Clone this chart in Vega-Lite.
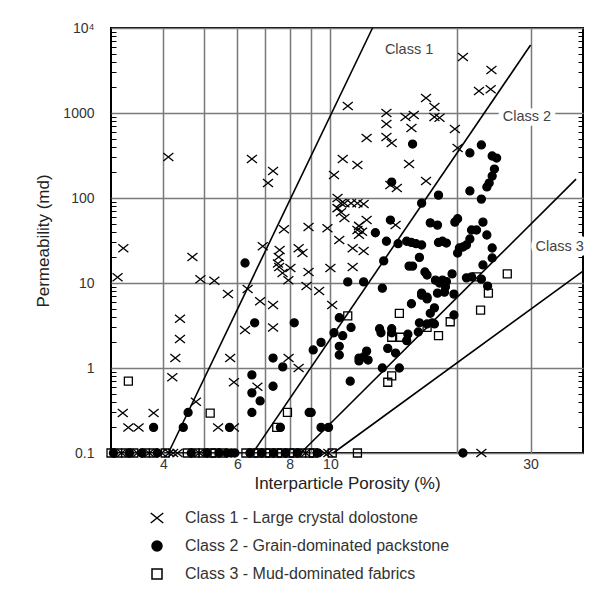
{
  "$schema": "https://vega.github.io/schema/vega-lite/v6.json",
  "width": 472,
  "height": 425,
  "autosize": {"type": "none"},
  "padding": {"left": 111, "top": 28, "right": 23, "bottom": 148},
  "background": "white",
  "config": {
    "view": {"stroke": "black", "strokeWidth": 2},
    "font": "Liberation Sans",
    "axis": {"labelFont": "Liberation Sans", "titleFont": "Liberation Sans", "titleFontWeight": "normal"},
    "legend": {"labelFont": "Liberation Sans"}
  },
  "datasets": {
    "pts": [
      {"x":4.11,"k":303,"c":"1"},{"x":6.5,"k":288,"c":"1"},{"x":7.3,"k":208,"c":"1"},{"x":7.1,"k":150,"c":"1"},{"x":3.21,"k":25.7,"c":"1"},{"x":3.11,"k":11.7,"c":"1"},{"x":4.69,"k":20.2,"c":"1"},{"x":4.9,"k":11.1,"c":"1"},{"x":5.29,"k":10.6,"c":"1"},{"x":5.7,"k":7.4,"c":"1"},{"x":6.35,"k":8.5,"c":"1"},{"x":6.9,"k":27,"c":"1"},{"x":7.75,"k":43,"c":"1"},{"x":7.57,"k":24.4,"c":"1"},{"x":7.53,"k":20.2,"c":"1"},{"x":7.55,"k":15.4,"c":"1"},{"x":7.69,"k":13.1,"c":"1"},{"x":8.03,"k":15,"c":"1"},{"x":7.94,"k":10.8,"c":"1"},{"x":8.4,"k":25.7,"c":"1"},{"x":8.58,"k":22.5,"c":"1"},{"x":11.0,"k":1208,"c":"1"},{"x":13.6,"k":1000,"c":"1"},{"x":13.6,"k":741,"c":"1"},{"x":15.1,"k":897,"c":"1"},{"x":15.8,"k":947,"c":"1"},{"x":15.6,"k":667,"c":"1"},{"x":17.7,"k":1175,"c":"1"},{"x":17.7,"k":900,"c":"1"},{"x":18.2,"k":880,"c":"1"},{"x":12.2,"k":508,"c":"1"},{"x":13.6,"k":522,"c":"1"},{"x":14.0,"k":444,"c":"1"},{"x":10.7,"k":288,"c":"1"},{"x":11.6,"k":244,"c":"1"},{"x":15.4,"k":251,"c":"1"},{"x":10.2,"k":186,"c":"1"},{"x":13.9,"k":142,"c":"1"},{"x":14.4,"k":131,"c":"1"},{"x":16.9,"k":158,"c":"1"},{"x":10.4,"k":100,"c":"1"},{"x":10.6,"k":87,"c":"1"},{"x":10.8,"k":87,"c":"1"},{"x":11.2,"k":87,"c":"1"},{"x":11.6,"k":87,"c":"1"},{"x":12.0,"k":85,"c":"1"},{"x":10.4,"k":76,"c":"1"},{"x":10.6,"k":68,"c":"1"},{"x":10.8,"k":58,"c":"1"},{"x":12.2,"k":55,"c":"1"},{"x":11.7,"k":47,"c":"1"},{"x":11.6,"k":42,"c":"1"},{"x":11.9,"k":40,"c":"1"},{"x":11.7,"k":37,"c":"1"},{"x":14.3,"k":48,"c":"1"},{"x":11.3,"k":25.7,"c":"1"},{"x":12.0,"k":23.8,"c":"1"},{"x":11.3,"k":15.4,"c":"1"},{"x":10.5,"k":32,"c":"1"},{"x":9.84,"k":44,"c":"1"},{"x":8.87,"k":45.6,"c":"1"},{"x":7.5,"k":17,"c":"1"},{"x":8.87,"k":13.5,"c":"1"},{"x":10.0,"k":15,"c":"1"},{"x":8.77,"k":9.2,"c":"1"},{"x":9.4,"k":8.05,"c":"1"},{"x":20.7,"k":4560,"c":"1"},{"x":24.2,"k":3200,"c":"1"},{"x":22.6,"k":1820,"c":"1"},{"x":24.1,"k":1900,"c":"1"},{"x":16.9,"k":1500,"c":"1"},{"x":19.8,"k":649,"c":"1"},{"x":20.1,"k":387,"c":"1"},{"x":4.38,"k":3.8,"c":"1"},{"x":4.38,"k":2.2,"c":"1"},{"x":4.27,"k":1.31,"c":"1"},{"x":4.2,"k":0.78,"c":"1"},{"x":6.8,"k":6.1,"c":"1"},{"x":7.3,"k":5.5,"c":"1"},{"x":6.26,"k":2.8,"c":"1"},{"x":7.3,"k":3.0,"c":"1"},{"x":5.77,"k":1.31,"c":"1"},{"x":5.89,"k":0.68,"c":"1"},{"x":6.7,"k":0.6,"c":"1"},{"x":7.95,"k":1.31,"c":"1"},{"x":8.4,"k":1.0,"c":"1"},{"x":4.78,"k":0.4,"c":"1"},{"x":5.4,"k":0.2,"c":"1"},{"x":5.89,"k":0.2,"c":"1"},{"x":3.2,"k":0.295,"c":"1"},{"x":3.79,"k":0.295,"c":"1"},{"x":3.3,"k":0.2,"c":"1"},{"x":3.49,"k":0.2,"c":"1"},{"x":10.1,"k":5.5,"c":"1"},{"x":22.9,"k":0.1,"c":"1"},
      {"x":3.18,"k":0.1,"c":"1"},{"x":3.47,"k":0.1,"c":"1"},{"x":3.7,"k":0.1,"c":"1"},{"x":3.96,"k":0.1,"c":"1"},{"x":4.13,"k":0.1,"c":"1"},{"x":4.22,"k":0.1,"c":"1"},{"x":4.32,"k":0.1,"c":"1"},{"x":4.87,"k":0.1,"c":"1"},{"x":8.73,"k":0.1,"c":"1"},{"x":9.68,"k":0.1,"c":"1"},{"x":9.89,"k":0.1,"c":"1"},
      {"x":6.26,"k":17.2,"c":"2"},{"x":15.7,"k":431,"c":"2"},{"x":14.0,"k":154,"c":"2"},{"x":18.1,"k":108,"c":"2"},{"x":16.5,"k":87,"c":"2"},{"x":13.9,"k":55,"c":"2"},{"x":12.8,"k":39,"c":"2"},{"x":13.6,"k":31,"c":"2"},{"x":14.5,"k":29,"c":"2"},{"x":15.2,"k":31,"c":"2"},{"x":15.6,"k":30,"c":"2"},{"x":16.0,"k":29,"c":"2"},{"x":16.5,"k":28,"c":"2"},{"x":16.3,"k":20,"c":"2"},{"x":15.4,"k":15.8,"c":"2"},{"x":15.7,"k":15.8,"c":"2"},{"x":16.8,"k":13.5,"c":"2"},{"x":17.0,"k":12.4,"c":"2"},{"x":18.1,"k":30,"c":"2"},{"x":17.3,"k":51,"c":"2"},{"x":18.0,"k":48,"c":"2"},{"x":13.4,"k":18.2,"c":"2"},{"x":11.0,"k":10.3,"c":"2"},{"x":12.0,"k":10.3,"c":"2"},{"x":13.3,"k":8.7,"c":"2"},{"x":22.9,"k":421,"c":"2"},{"x":21.5,"k":339,"c":"2"},{"x":24.3,"k":312,"c":"2"},{"x":24.9,"k":295,"c":"2"},{"x":24.6,"k":219,"c":"2"},{"x":24.3,"k":181,"c":"2"},{"x":23.9,"k":150,"c":"2"},{"x":23.6,"k":135,"c":"2"},{"x":21.5,"k":121,"c":"2"},{"x":22.9,"k":97,"c":"2"},{"x":23.1,"k":52,"c":"2"},{"x":22.3,"k":42,"c":"2"},{"x":21.7,"k":42,"c":"2"},{"x":21.5,"k":33,"c":"2"},{"x":21.1,"k":28,"c":"2"},{"x":20.3,"k":25.8,"c":"2"},{"x":20.1,"k":22.5,"c":"2"},{"x":20.7,"k":26.5,"c":"2"},{"x":23.6,"k":36.7,"c":"2"},{"x":24.3,"k":25.8,"c":"2"},{"x":24.3,"k":19.7,"c":"2"},{"x":20.1,"k":57,"c":"2"},{"x":19.8,"k":52,"c":"2"},{"x":18.5,"k":31,"c":"2"},{"x":18.9,"k":29.5,"c":"2"},{"x":17.8,"k":10.8,"c":"2"},{"x":18.2,"k":10,"c":"2"},{"x":18.5,"k":10.8,"c":"2"},{"x":18.9,"k":10.4,"c":"2"},{"x":18.8,"k":9.0,"c":"2"},{"x":19.5,"k":12.8,"c":"2"},{"x":21.1,"k":11.5,"c":"2"},{"x":21.7,"k":11.8,"c":"2"},{"x":23.1,"k":16.3,"c":"2"},{"x":22.9,"k":11.1,"c":"2"},{"x":23.7,"k":9.2,"c":"2"},{"x":16.5,"k":7.6,"c":"2"},{"x":17.0,"k":6.8,"c":"2"},{"x":18.0,"k":7.6,"c":"2"},{"x":10.5,"k":3.9,"c":"2"},{"x":10.2,"k":2.6,"c":"2"},{"x":10.7,"k":2.4,"c":"2"},{"x":11.2,"k":3.0,"c":"2"},{"x":9.5,"k":2.0,"c":"2"},{"x":9.1,"k":1.63,"c":"2"},{"x":10.5,"k":1.8,"c":"2"},{"x":10.5,"k":1.42,"c":"2"},{"x":13.1,"k":2.9,"c":"2"},{"x":13.2,"k":2.6,"c":"2"},{"x":14.0,"k":2.9,"c":"2"},{"x":14.0,"k":2.6,"c":"2"},{"x":15.3,"k":2.5,"c":"2"},{"x":15.2,"k":2.1,"c":"2"},{"x":16.2,"k":2.65,"c":"2"},{"x":13.7,"k":1.7,"c":"2"},{"x":14.3,"k":1.5,"c":"2"},{"x":12.2,"k":1.58,"c":"2"},{"x":11.7,"k":1.31,"c":"2"},{"x":12.3,"k":1.24,"c":"2"},{"x":11.7,"k":1.21,"c":"2"},{"x":12.0,"k":1.35,"c":"2"},{"x":13.3,"k":1.0,"c":"2"},{"x":14.6,"k":1.0,"c":"2"},{"x":11.15,"k":0.7,"c":"2"},{"x":8.9,"k":0.3,"c":"2"},{"x":9.5,"k":0.2,"c":"2"},{"x":9.9,"k":0.2,"c":"2"},{"x":15.6,"k":5.7,"c":"2"},{"x":16.5,"k":7.2,"c":"2"},{"x":17.0,"k":6.5,"c":"2"},{"x":17.3,"k":4.4,"c":"2"},{"x":17.7,"k":5.1,"c":"2"},{"x":18.7,"k":7.8,"c":"2"},{"x":19.7,"k":7.4,"c":"2"},{"x":16.3,"k":3.4,"c":"2"},{"x":17.0,"k":3.3,"c":"2"},{"x":17.5,"k":3.4,"c":"2"},{"x":17.7,"k":3.3,"c":"2"},{"x":19.7,"k":4.2,"c":"2"},{"x":6.6,"k":3.4,"c":"2"},{"x":8.2,"k":3.4,"c":"2"},{"x":7.3,"k":1.31,"c":"2"},{"x":7.7,"k":1.03,"c":"2"},{"x":6.5,"k":0.83,"c":"2"},{"x":6.5,"k":0.51,"c":"2"},{"x":6.8,"k":0.41,"c":"2"},{"x":6.5,"k":0.3,"c":"2"},{"x":7.3,"k":0.61,"c":"2"},{"x":9.0,"k":0.3,"c":"2"},{"x":7.6,"k":0.2,"c":"2"},{"x":4.58,"k":0.3,"c":"2"},{"x":4.46,"k":0.2,"c":"2"},{"x":5.75,"k":0.2,"c":"2"},{"x":3.79,"k":0.2,"c":"2"},{"x":20.7,"k":0.1,"c":"2"},
      {"x":3.04,"k":0.1,"c":"2"},{"x":3.32,"k":0.1,"c":"2"},{"x":3.55,"k":0.1,"c":"2"},{"x":3.87,"k":0.1,"c":"2"},{"x":4.66,"k":0.1,"c":"2"},{"x":5.08,"k":0.1,"c":"2"},{"x":5.43,"k":0.1,"c":"2"},{"x":5.67,"k":0.1,"c":"2"},{"x":5.8,"k":0.1,"c":"2"},{"x":5.92,"k":0.1,"c":"2"},{"x":6.43,"k":0.1,"c":"2"},{"x":6.86,"k":0.1,"c":"2"},{"x":7.32,"k":0.1,"c":"2"},{"x":7.82,"k":0.1,"c":"2"},{"x":8.35,"k":0.1,"c":"2"},{"x":9.32,"k":0.1,"c":"2"},
      {"x":11.0,"k":4.1,"c":"3"},{"x":14.6,"k":4.4,"c":"3"},{"x":14.0,"k":2.3,"c":"3"},{"x":14.7,"k":2.3,"c":"3"},{"x":17.0,"k":3.0,"c":"3"},{"x":19.3,"k":3.5,"c":"3"},{"x":18.1,"k":2.4,"c":"3"},{"x":22.8,"k":4.8,"c":"3"},{"x":23.8,"k":7.6,"c":"3"},{"x":26.4,"k":12.8,"c":"3"},{"x":13.7,"k":0.68,"c":"3"},{"x":14.0,"k":0.81,"c":"3"},{"x":7.9,"k":0.3,"c":"3"},{"x":7.45,"k":0.2,"c":"3"},{"x":5.17,"k":0.295,"c":"3"},{"x":3.3,"k":0.7,"c":"3"},{"x":22.3,"k":11.8,"c":"3"},
      {"x":3.0,"k":0.1,"c":"3"},{"x":3.11,"k":0.1,"c":"3"},{"x":3.25,"k":0.1,"c":"3"},{"x":3.4,"k":0.1,"c":"3"},{"x":3.62,"k":0.1,"c":"3"},{"x":3.79,"k":0.1,"c":"3"},{"x":4.04,"k":0.1,"c":"3"},{"x":4.56,"k":0.1,"c":"3"},{"x":4.76,"k":0.1,"c":"3"},{"x":4.97,"k":0.1,"c":"3"},{"x":5.2,"k":0.1,"c":"3"},{"x":5.31,"k":0.1,"c":"3"},{"x":5.55,"k":0.1,"c":"3"},{"x":6.29,"k":0.1,"c":"3"},{"x":6.57,"k":0.1,"c":"3"},{"x":6.72,"k":0.1,"c":"3"},{"x":7.01,"k":0.1,"c":"3"},{"x":7.17,"k":0.1,"c":"3"},{"x":7.48,"k":0.1,"c":"3"},{"x":7.65,"k":0.1,"c":"3"},{"x":7.99,"k":0.1,"c":"3"},{"x":8.17,"k":0.1,"c":"3"},{"x":8.54,"k":0.1,"c":"3"},{"x":8.92,"k":0.1,"c":"3"},{"x":9.12,"k":0.1,"c":"3"},{"x":10.1,"k":0.1,"c":"3"},{"x":11.6,"k":0.1,"c":"3"}
    ],
    "lines": [
      {"id":"a","x":4.11,"k":0.1},{"id":"a","x":12.6,"k":10000},
      {"id":"b","x":6.53,"k":0.1},{"id":"b","x":30.0,"k":6300},
      {"id":"c","x":8.5,"k":0.1},{"id":"c","x":38.5,"k":167},
      {"id":"d","x":10.16,"k":0.1},{"id":"d","x":40,"k":13.8}
    ],
    "notes": [
      {"x":15.4,"k":5510,"t":"Class 1"},
      {"x":29.4,"k":897,"t":"Class 2"},
      {"x":35.2,"k":26.5,"t":"Class 3"}
    ]
  },
  "encoding": {
    "x": {
      "field": "x", "type": "quantitative",
      "scale": {"type": "log", "domain": [3, 40], "nice": false},
      "axis": {
        "values": [4, 5, 6, 7, 8, 9, 10, 20, 30],
        "format": "~g",
        "labelExpr": "(datum.value==4||datum.value==6||datum.value==8||datum.value==10||datum.value==30) ? datum.label : ''",
        "title": "Interparticle Porosity (%)",
        "titleFontSize": 17, "titleColor": "#222", "titlePadding": 4,
        "labelFontSize": 14, "labelColor": "#333", "labelPadding": 4,
        "labelOverlap": false, "labelFlush": false,
        "ticks": false, "domain": false,
        "grid": true, "gridColor": "#7a7a7a", "gridWidth": 1.5
      }
    }
  },
  "layer": [
    {
      "data": {"name": "pts"},
      "mark": {"type": "point", "filled": true, "size": 64, "stroke": "black", "strokeWidth": 1.3, "opacity": 1},
      "encoding": {
        "y": {
          "field": "k", "type": "quantitative",
          "scale": {"type": "log", "domain": [0.1, 10000], "nice": false},
          "axis": {
            "orient": "left",
            "values": [0.1,0.2,0.3,0.4,0.5,0.6,0.7,0.8,0.9,1,2,3,4,5,6,7,8,9,10,20,30,40,50,60,70,80,90,100,200,300,400,500,600,700,800,900,1000,2000,3000,4000,5000,6000,7000,8000,9000,10000],
            "labelExpr": "datum.value==0.1?'0.1':datum.value==1?'1':datum.value==10?'10':datum.value==100?'100':datum.value==1000?'1000':datum.value==10000?'10⁴':''",
            "labelFontSize": 14, "labelColor": "#333", "labelPadding": 22,
            "labelOverlap": false, "labelFlush": false,
            "title": "Permeability (md)", "titleFontSize": 17, "titleColor": "#222", "titlePadding": 10,
            "domain": false,
            "grid": true, "gridColor": "#7a7a7a", "gridWidth": 1.5,
            "gridOpacity": {"condition": {"test": "datum.value==0.1||datum.value==1||datum.value==10||datum.value==100||datum.value==1000||datum.value==10000", "value": 1}, "value": 0},
            "ticks": true, "tickColor": "black", "tickWidth": 1, "tickSize": -5,
            "tickOpacity": {"condition": {"test": "datum.value==0.1||datum.value==1||datum.value==10||datum.value==100||datum.value==1000||datum.value==10000", "value": 0}, "value": 1}
          }
        },
        "shape": {
          "field": "c", "type": "nominal",
          "scale": {"domain": ["1", "2", "3"], "range": ["M-1.25,-1L1.25,1M1.25,-1L-1.25,1", "circle", "square"]},
          "legend": {
            "orient": "none", "legendX": 38, "legendY": 482, "title": null, "padding": 0,
            "labelExpr": "datum.label=='1'?'Class 1 - Large crystal dolostone':datum.label=='2'?'Class 2 - Grain-dominated packstone':'Class 3 - Mud-dominated fabrics'",
            "labelFontSize": 16, "labelColor": "#333", "labelOffset": 20, "labelLimit": 0,
            "symbolSize": 100, "symbolStrokeWidth": 1.5, "rowPadding": 12
          }
        },
        "fill": {
          "field": "c", "type": "nominal",
          "scale": {"domain": ["1", "2", "3"], "range": ["transparent", "black", "transparent"]},
          "legend": {
            "orient": "none", "legendX": 38, "legendY": 482, "title": null, "padding": 0,
            "labelExpr": "datum.label=='1'?'Class 1 - Large crystal dolostone':datum.label=='2'?'Class 2 - Grain-dominated packstone':'Class 3 - Mud-dominated fabrics'",
            "labelFontSize": 16, "labelColor": "#333", "labelOffset": 20, "labelLimit": 0,
            "symbolSize": 100, "symbolStrokeWidth": 1.5, "rowPadding": 12
          }
        },
        "stroke": {
          "field": "c", "type": "nominal",
          "scale": {"domain": ["1", "2", "3"], "range": ["black", "black", "black"]},
          "legend": {
            "orient": "none", "legendX": 38, "legendY": 482, "title": null, "padding": 0,
            "labelExpr": "datum.label=='1'?'Class 1 - Large crystal dolostone':datum.label=='2'?'Class 2 - Grain-dominated packstone':'Class 3 - Mud-dominated fabrics'",
            "labelFontSize": 16, "labelColor": "#333", "labelOffset": 20, "labelLimit": 0,
            "symbolSize": 100, "symbolStrokeWidth": 1.5, "rowPadding": 12
          }
        }
      }
    },
    {
      "data": {"name": "lines"},
      "mark": {"type": "line", "color": "black", "strokeWidth": 1.6},
      "encoding": {
        "y": {
          "field": "k", "type": "quantitative",
          "scale": {"type": "log", "domain": [0.1, 10000], "nice": false},
          "axis": {
            "orient": "right",
            "values": [0.1,0.2,0.3,0.4,0.5,0.6,0.7,0.8,0.9,1,2,3,4,5,6,7,8,9,10,20,30,40,50,60,70,80,90,100,200,300,400,500,600,700,800,900,1000,2000,3000,4000,5000,6000,7000,8000,9000,10000],
            "labels": false, "title": null, "domain": false, "grid": false,
            "ticks": true, "tickColor": "black", "tickWidth": 1, "tickSize": -5,
            "tickOpacity": {"condition": {"test": "datum.value==0.1||datum.value==1||datum.value==10||datum.value==100||datum.value==1000||datum.value==10000", "value": 0}, "value": 1}
          }
        },
        "detail": {"field": "id", "type": "nominal"}
      }
    },
    {
      "data": {"name": "notes"},
      "mark": {"type": "text", "font": "Liberation Sans", "fontSize": 14.5, "stroke": "white", "strokeWidth": 10, "strokeJoin": "round", "fill": "white"},
      "encoding": {
        "y": {"field": "k", "type": "quantitative", "scale": {"type": "log", "domain": [0.1, 10000], "nice": false}, "axis": null},
        "text": {"field": "t"}
      }
    },
    {
      "data": {"name": "notes"},
      "mark": {"type": "text", "font": "Liberation Sans", "fontSize": 14.5, "fill": "#444"},
      "encoding": {
        "y": {"field": "k", "type": "quantitative", "scale": {"type": "log", "domain": [0.1, 10000], "nice": false}, "axis": null},
        "text": {"field": "t"}
      }
    }
  ],
  "resolve": {"axis": {"y": "independent"}}
}
